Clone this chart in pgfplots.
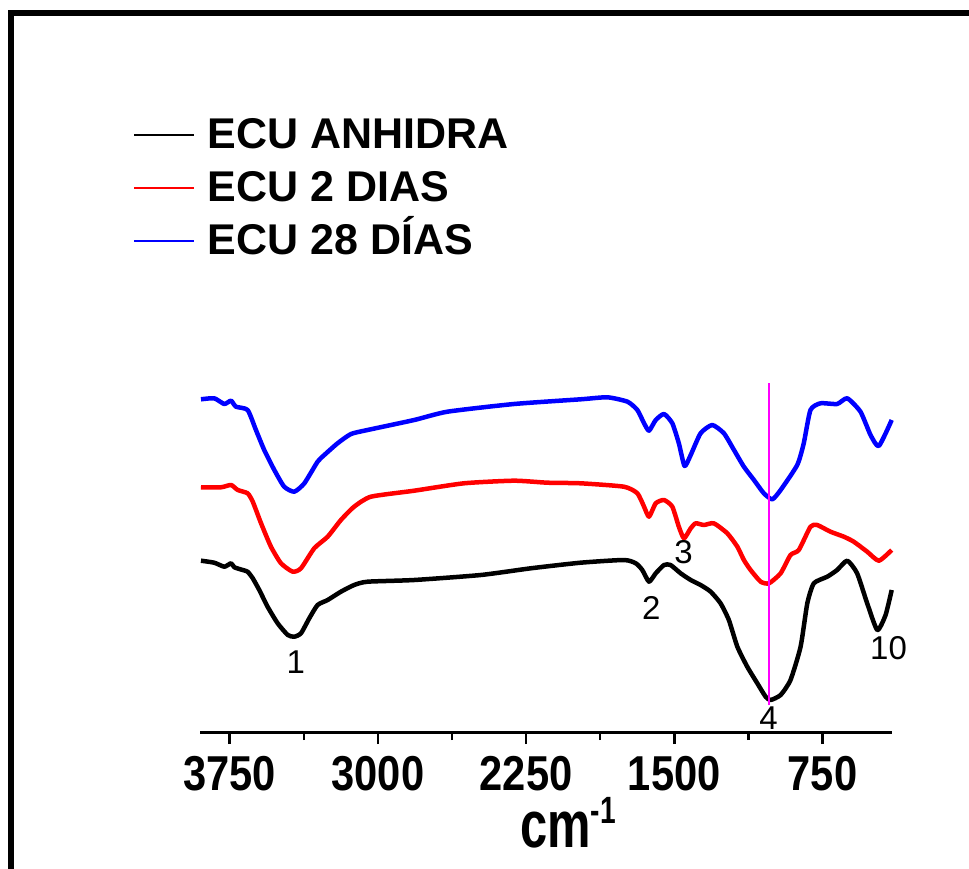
\documentclass[border=0pt]{standalone}
\usepackage{fontspec}
\setmainfont{Liberation Sans}
\newfontfamily\ticksans{Liberation Sans}[FakeStretch=0.85]
\newfontfamily\unitsans{Liberation Sans}[FakeStretch=0.74]
\usepackage{pgfplots}
\pgfplotsset{compat=1.18}

\definecolor{ftblack}{RGB}{0,0,0}
\definecolor{ftred}{RGB}{255,0,0}
\definecolor{ftblue}{RGB}{0,0,255}
\definecolor{ftmag}{RGB}{255,0,255}

\begin{document}
\begin{tikzpicture}[x=1pt,y=1pt]
\useasboundingbox (0,0) rectangle (969,868);
% outer frame
\draw[line width=6pt, line join=miter] (11,-10) -- (11,855) -- (980,855);
\begin{axis}[
  at={(891.7pt,136pt)}, anchor=south east,
  scale only axis, width=691.7pt, height=700pt,
  x dir=reverse,
  xmin=400, xmax=3900, ymin=0, ymax=700,
  axis x line=bottom, axis y line=none,
  x axis line style={-, line width=3pt},
  xtick={3750,3000,2250,1500,750},
  xticklabels={3750,3000,2250,1500,750},
  minor xtick={3375,2625,1875,1125},
  tick align=outside,
  major tick length=12pt, minor tick length=8pt,
  every tick/.style={black, line width=2.5pt},
  xticklabel style={font=\ticksans\bfseries\fontsize{49}{49}\selectfont, inner sep=0pt, anchor=north, yshift=-12pt},
  xlabel={\unitsans\bfseries\fontsize{66}{66}\selectfont cm\raisebox{24pt}{\fontsize{38}{38}\selectfont -1}},
  xlabel style={at={(axis description cs:0.532,-0.1657)}, anchor=base, inner sep=0pt},
  legend style={at={(axis description cs:-0.0969,0.8786)}, anchor=north west,
    draw=none, fill=none, inner sep=0pt, row sep=22pt,
    font=\bfseries\fontsize{43}{43}\selectfont,
    nodes={inner sep=0pt, text height=31pt, text depth=0pt}},
  legend cell align=left,
  legend image code/.code={\draw[#1] (0pt,-2pt) -- (60pt,-2pt);},
  /tikz/every odd column/.append style={column sep=13pt},
  clip=false,
]
% legend entries
\addlegendimage{draw=ftblack, line width=1.8pt}
\addlegendentry{ECU ANHIDRA}
\addlegendimage{draw=ftred, line width=1.8pt}
\addlegendentry{ECU 2 DIAS}
\addlegendimage{draw=ftblue, line width=1.8pt}
\addlegendentry{ECU 28 DÍAS}
% anhydrous sample
\addplot[draw=ftblack, line width=4.5pt, line join=round, smooth, tension=0.35, forget plot] coordinates {
(3895,171.3) (3828,169.3) (3777,165.3) (3743,168.7) (3726,164.7) (3684,162)
(3659,160.3) (3633,153.7) (3600,142) (3558,125.3) (3507,108.7) (3456,97)
(3423,95.3) (3389,98.7) (3347,113.7) (3305,127) (3254,132) (3187,140.3)
(3120,147) (3052,150.3) (2816,152) (2479,157) (2226,163.7) (1974,169.3)
(1755,172) (1695,168.7) (1662,162) (1628,150.3) (1594,158.7) (1552,167)
(1519,167) (1468,158.7) (1417,152) (1367,147) (1316,140.3) (1266,128.7)
(1224,112) (1181,85.3) (1131,65.3) (1080,48.7) (1038,35.3) (1013,32)
(962,37) (912,52) (861,85.3) (827,128.7) (794,148.7) (726,155.3)
(676,162) (625,171.3) (575,158.7) (524,128.7) (473,102) (431,117) (400,142)
};
% 2 days
\addplot[draw=ftred, line width=4.5pt, line join=round, smooth, tension=0.35, forget plot] coordinates {
(3895,244.7) (3794,244.7) (3743,247) (3709,242) (3659,238.7) (3633,230.3)
(3591,208.7) (3541,185.3) (3490,168.7) (3431,160.3) (3389,163.7) (3322,183.7)
(3254,195.3) (3187,212) (3120,225.3) (3035,235.3) (2816,241.3) (2564,248.7)
(2311,251.3) (2142,249.3) (1974,248.7) (1755,245.3) (1687,238.7) (1653,225.3)
(1628,215.3) (1594,228.7) (1552,232) (1510,225.3) (1477,205.3) (1451,193.7)
(1417,203.7) (1392,208.7) (1350,207) (1300,208.7) (1232,198.7) (1181,185.3)
(1148,172) (1114,162) (1063,150.3) (1021,148.7) (962,158.7) (912,177)
(870,182) (811,205.3) (777,207) (710,200.3) (642,195.3) (592,190.3)
(524,180.3) (465,171.3) (400,182)
};
% 28 days
\addplot[draw=ftblue, line width=4.5pt, line join=round, smooth, tension=0.35, forget plot] coordinates {
(3895,332.7) (3828,333.7) (3777,328) (3743,331.3) (3718,325.3) (3659,322)
(3617,302) (3575,282) (3524,262) (3474,245.3) (3423,240.3) (3372,248.7)
(3305,270.3) (3271,277) (3204,288.7) (3136,298) (3052,302) (2816,312)
(2648,320.3) (2311,328) (1974,332.7) (1839,334.7) (1737,330.3) (1687,322)
(1653,308.7) (1628,301.3) (1594,312) (1552,318) (1510,308.7) (1477,288.7)
(1448,266) (1417,277) (1367,298.7) (1308,307) (1249,298.7) (1198,282)
(1148,265.3) (1097,252) (1047,238.7) (1004,232.7) (962,242) (878,267)
(845,288.7) (811,322) (760,328.7) (676,328) (625,333.7) (558,320.3)
(507,297) (465,286) (400,312)
};
% reference line at the main band
\addplot[draw=ftmag, line width=1.5pt, forget plot] coordinates {(1021,27) (1021,349)};
% band numbers
\node[font=\fontsize{33}{33}\selectfont] at (axis cs:3415,70) {1};
\node[font=\fontsize{33}{33}\selectfont] at (axis cs:1616,124) {2};
\node[font=\fontsize{33}{33}\selectfont] at (axis cs:1453,180) {3};
\node[font=\fontsize{33}{33}\selectfont] at (axis cs:1023,14) {4};
\node[font=\fontsize{33}{33}\selectfont] at (axis cs:416,84) {10};
\end{axis}
\end{tikzpicture}
\end{document}
